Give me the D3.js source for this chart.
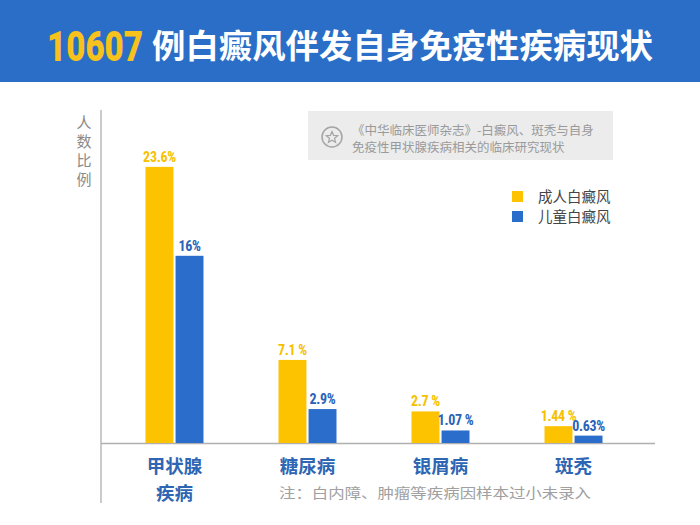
<!DOCTYPE html>
<html>
<head>
<meta charset="utf-8">
<script src="https://cdn.jsdelivr.net/npm/d3@7"></script>
<style>
  body { margin: 0; background: #fff; }
  svg { display: block; font-family: "Noto Sans CJK SC", "Noto Sans", sans-serif; }
</style>
</head>
<body>
<div id="chart"></div>
<script>
const categories = [["甲状腺", "疾病"], ["糖尿病"], ["银屑病"], ["斑秃"]];
const seriesNames = ["成人白癜风", "儿童白癜风"];
const adult = [23.6, 7.1, 2.7, 1.44];
const child = [16, 2.9, 1.07, 0.63];
const adultLabels = ["23.6%", "7.1 %", "2.7 %", "1.44 %"];
const childLabels = ["16%", "2.9%", "1.07 %", "0.63%"];
const sourceLines = ["《中华临床医师杂志》-白癜风、斑秃与自身", "免疫性甲状腺疾病相关的临床研究现状"];

const width = 700, height = 525;
const yellow = "#fdc300", blue = "#2a6dcb";
const colors = [yellow, blue];

const svg = d3.select("#chart").append("svg")
  .attr("width", width)
  .attr("height", height);

// header band
svg.append("rect")
  .attr("width", width).attr("height", 82)
  .attr("fill", "#2b6ec7");

// tall, narrow digits like the poster face
svg.append("text")
  .attr("transform", "translate(47,61) scale(1,1.3)")
  .attr("font-size", 33).attr("font-weight", 900)
  .attr("fill", "#f7c21b")
  .attr("textLength", 96).attr("lengthAdjust", "spacingAndGlyphs")
  .attr("font-family", "Roboto, sans-serif")
  .text("10607");

svg.append("text")
  .attr("x", 152).attr("y", 58)
  .attr("font-size", 33.5).attr("font-weight", 700)
  .attr("fill", "#fff")
  .attr("textLength", 501).attr("lengthAdjust", "spacingAndGlyphs")
  .text("例白癜风伴发自身免疫性疾病现状");

// scales
const baseline = 443;
const x0 = d3.scaleBand().domain(d3.range(categories.length)).range([108, 640]);
const x1 = d3.scaleBand().domain(seriesNames).range([-29, 29]).paddingInner(0.07);
const y = d3.scaleLinear().domain([0, 30]).range([baseline, 92]);

// axes lines
svg.append("line")
  .attr("x1", 101).attr("x2", 101).attr("y1", 110).attr("y2", 503)
  .attr("stroke", "#a8a8a8").attr("stroke-width", 1.2);
svg.append("line")
  .attr("x1", 101).attr("x2", 655).attr("y1", baseline + 0.5).attr("y2", baseline + 0.5)
  .attr("stroke", "#b0b0b0").attr("stroke-width", 1.5);

// y label, vertical
svg.append("g").selectAll("text")
  .data(["人", "数", "比", "例"])
  .join("text")
  .attr("x", 84)
  .attr("y", (d, i) => 128 + i * 19)
  .attr("text-anchor", "middle")
  .attr("font-size", 15)
  .attr("fill", "#8a8a8a")
  .text(d => d);

// bars
const rows = categories.map((c, i) => ({
  i,
  values: [
    { s: seriesNames[0], v: adult[i], label: adultLabels[i], k: 0 },
    { s: seriesNames[1], v: child[i], label: childLabels[i], k: 1 }
  ]
}));

const groups = svg.append("g").selectAll("g")
  .data(rows)
  .join("g")
  .attr("transform", d => `translate(${x0(d.i) + x0.bandwidth() / 2},0)`);

groups.selectAll("rect")
  .data(d => d.values)
  .join("rect")
  .attr("x", d => x1(d.s))
  .attr("width", x1.bandwidth())
  .attr("y", d => y(d.v))
  .attr("height", d => baseline - y(d.v))
  .attr("fill", d => colors[d.k]);

groups.selectAll("text.val")
  .data(d => d.values)
  .join("text")
  .attr("class", "val")
  .attr("x", d => x1(d.s) + x1.bandwidth() / 2)
  .attr("y", d => y(d.v) - 5)
  .attr("text-anchor", "middle")
  .attr("font-family", "'Liberation Sans Narrow', 'Roboto Condensed', Roboto, sans-serif")
  .attr("font-weight", 700)
  .attr("font-size", 14)
  .attr("letter-spacing", -0.3)
  .attr("fill", d => d.k === 0 ? "#f6c000" : "#2a62b8")
  .text(d => d.label);

// category labels
groups.selectAll("text.cat")
  .data(d => categories[d.i].map((t, j) => ({ t, j })))
  .join("text")
  .attr("class", "cat")
  .attr("x", 0)
  .attr("y", d => 473 + d.j * 27)
  .attr("text-anchor", "middle")
  .attr("font-size", 18.5)
  .attr("font-weight", 700)
  .attr("fill", "#2e66b3")
  .text(d => d.t);

// note
svg.append("text")
  .attr("x", 279).attr("y", 498)
  .attr("font-size", 13.5)
  .attr("fill", "#a0a0a0")
  .attr("textLength", 312).attr("lengthAdjust", "spacingAndGlyphs")
  .text("注：白内障、肿瘤等疾病因样本过小未录入");

// source box
const src = svg.append("g");
src.append("rect")
  .attr("x", 308).attr("y", 111).attr("width", 305).attr("height", 49)
  .attr("fill", "#ececec");
src.append("circle")
  .attr("cx", 332).attr("cy", 137).attr("r", 10)
  .attr("fill", "none").attr("stroke", "#a5a5a5").attr("stroke-width", 1.5);
const star = d3.range(10).map(k => {
  const a = -Math.PI / 2 + k * Math.PI / 5;
  const r = k % 2 === 0 ? 6 : 2.7;
  return [332 + r * Math.cos(a), 137.5 + r * Math.sin(a)];
});
src.append("path")
  .attr("d", d3.line()(star) + "Z")
  .attr("fill", "none").attr("stroke", "#a5a5a5").attr("stroke-width", 1.2);
src.selectAll("text.src")
  .data(sourceLines)
  .join("text")
  .attr("class", "src")
  .attr("x", 352)
  .attr("y", (d, i) => 134.5 + i * 17.5)
  .attr("font-size", 12.5)
  .attr("fill", "#9a9a9a")
  .text(d => d);

// legend
const legend = svg.append("g").selectAll("g")
  .data(seriesNames)
  .join("g")
  .attr("transform", (d, i) => `translate(512,${191 + i * 20})`);
legend.append("rect")
  .attr("width", 11).attr("height", 11)
  .attr("fill", (d, i) => colors[i]);
legend.append("text")
  .attr("x", 26).attr("y", 10.5)
  .attr("font-size", 14.5)
  .attr("fill", "#444")
  .text(d => d);
</script>
</body>
</html>
